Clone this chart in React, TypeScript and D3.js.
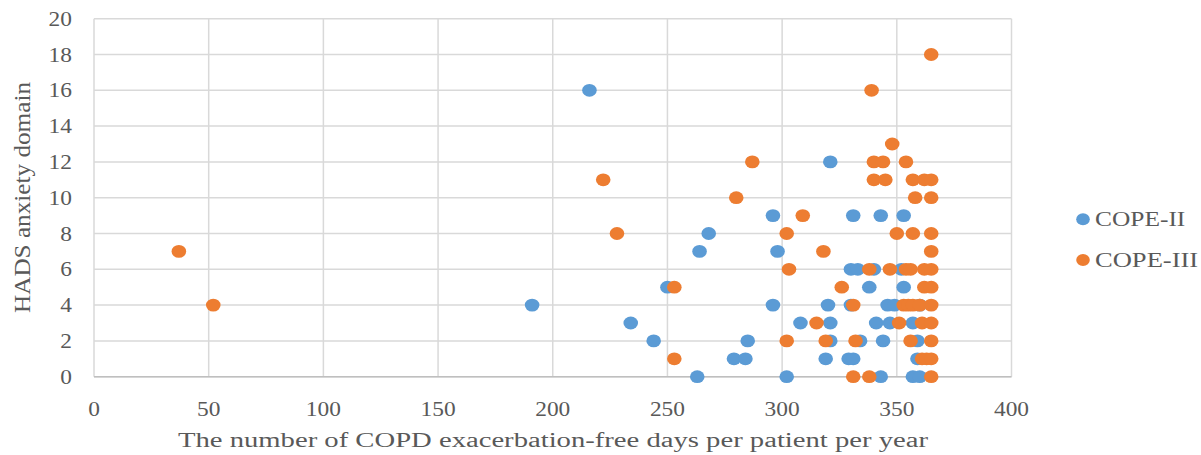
import React from "react";
import * as d3 from "d3";

// COPE-II (blue) points: days free of exacerbation, HADS anxiety score
const copeIIDays = [
  216, 191, 234, 244, 250, 264, 268, 263, 279, 284, 285, 296, 298, 296, 308, 302, 321, 331, 343, 353,
  330, 333, 340, 352, 338, 353, 320, 330, 346, 349, 360, 321, 341, 347, 357, 321, 334, 344, 359,
  319, 329, 331, 359, 343, 357, 360,
];
const copeIIScores = [
  16, 4, 3, 2, 5, 7, 8, 0, 1, 1, 2, 9, 7, 4, 3, 0, 12, 9, 9, 9,
  6, 6, 6, 6, 5, 5, 4, 4, 4, 4, 4, 3, 3, 3, 3, 2, 2, 2, 2,
  1, 1, 1, 1, 0, 0, 0,
];

// COPE-III (orange) points
const copeIIIDays = [
  37, 52, 222, 228, 253, 253, 280, 287, 302, 303, 302, 309, 318, 339, 365, 348,
  340, 344, 354, 340, 345, 357, 362, 365, 358, 365, 350, 357, 365, 365,
  338, 347, 354, 356, 362, 365, 326, 362, 365, 331, 353, 355, 357, 360, 365,
  315, 351, 361, 365, 319, 332, 356, 365, 361, 363, 365, 331, 338, 365,
];
const copeIIIScores = [
  7, 4, 11, 8, 5, 1, 10, 12, 8, 6, 2, 9, 7, 16, 18, 13,
  12, 12, 12, 11, 11, 11, 11, 11, 10, 10, 8, 8, 8, 7,
  6, 6, 6, 6, 6, 6, 5, 5, 5, 4, 4, 4, 4, 4, 4,
  3, 3, 3, 3, 2, 2, 2, 2, 1, 1, 1, 0, 0, 0,
];

const xTicks = [0, 50, 100, 150, 200, 250, 300, 350, 400];
const yTicks = [0, 2, 4, 6, 8, 10, 12, 14, 16, 18, 20];

const seriesNames = ["COPE-II", "COPE-III"];
const colors = ["#5B9BD5", "#ED7D31"];

const font = "'Liberation Serif', 'Times New Roman', serif";
const stretch = 1.17;

export default function App() {
  const width = 1201;
  const height = 455;

  const x = d3.scaleLinear().domain([0, 400]).range([94, 1011.5]);
  const y = d3.scaleLinear().domain([0, 20]).range([376.7, 18.7]);

  const series = [
    d3.zip(copeIIDays, copeIIScores),
    d3.zip(copeIIIDays, copeIIIScores),
  ];

  return (
    <svg
      width={width}
      height={height}
      style={{ position: "absolute", left: 0, top: 0, background: "#fff" }}
    >
      {/* grid */}
      <g stroke="#d9d9d9" strokeWidth={1.5}>
        {xTicks.map((t) => (
          <line key={"gx" + t} x1={x(t)} x2={x(t)} y1={y(20)} y2={y(0)} />
        ))}
        {yTicks.map((t) => (
          <line key={"gy" + t} x1={x(0)} x2={x(400)} y1={y(t)} y2={y(t)} />
        ))}
      </g>
      <line x1={x(0)} x2={x(400)} y1={y(0)} y2={y(0)} stroke="#bfbfbf" strokeWidth={1.5} />

      {/* tick labels */}
      <g fill="#595959" fontFamily={font} fontSize={20}>
        {yTicks.map((t) => (
          <g key={"yl" + t} transform={`translate(72,${y(t) + 7}) scale(${stretch},1)`}>
            <text textAnchor="end">{t}</text>
          </g>
        ))}
        {xTicks.map((t) => (
          <g key={"xl" + t} transform={`translate(${x(t)},416) scale(${stretch},1)`}>
            <text textAnchor="middle">{t}</text>
          </g>
        ))}
      </g>

      {/* axis titles */}
      <text
        x={553}
        y={447}
        textAnchor="middle"
        fontFamily={font}
        fontSize={20}
        fill="#595959"
        textLength={750}
        lengthAdjust="spacingAndGlyphs"
      >
        The number of COPD exacerbation-free  days per patient per year
      </text>
      <g transform="translate(30,197.5) rotate(-90)">
        <text
          textAnchor="middle"
          fontFamily={font}
          fontSize={24}
          fill="#595959"
          textLength={231}
          lengthAdjust="spacingAndGlyphs"
        >
          HADS anxiety domain
        </text>
      </g>

      {/* points */}
      {series.map((pts, i) => (
        <g key={"s" + i} fill={colors[i]}>
          {pts.map(([dx, dy], j) => (
            <ellipse key={j} cx={x(dx)} cy={y(dy)} rx={7.3} ry={6.4} />
          ))}
        </g>
      ))}

      {/* legend */}
      {seriesNames.map((name, i) => (
        <g key={"lg" + i} transform={`translate(1083,${219.3 + i * 40.7})`}>
          <ellipse cx={0} cy={0} rx={6.8} ry={6} fill={colors[i]} />
          <text
            x={12}
            y={7}
            fontFamily={font}
            fontSize={20}
            fill="#595959"
            textLength={name.length * 12.9}
            lengthAdjust="spacingAndGlyphs"
          >
            {name}
          </text>
        </g>
      ))}
    </svg>
  );
}
